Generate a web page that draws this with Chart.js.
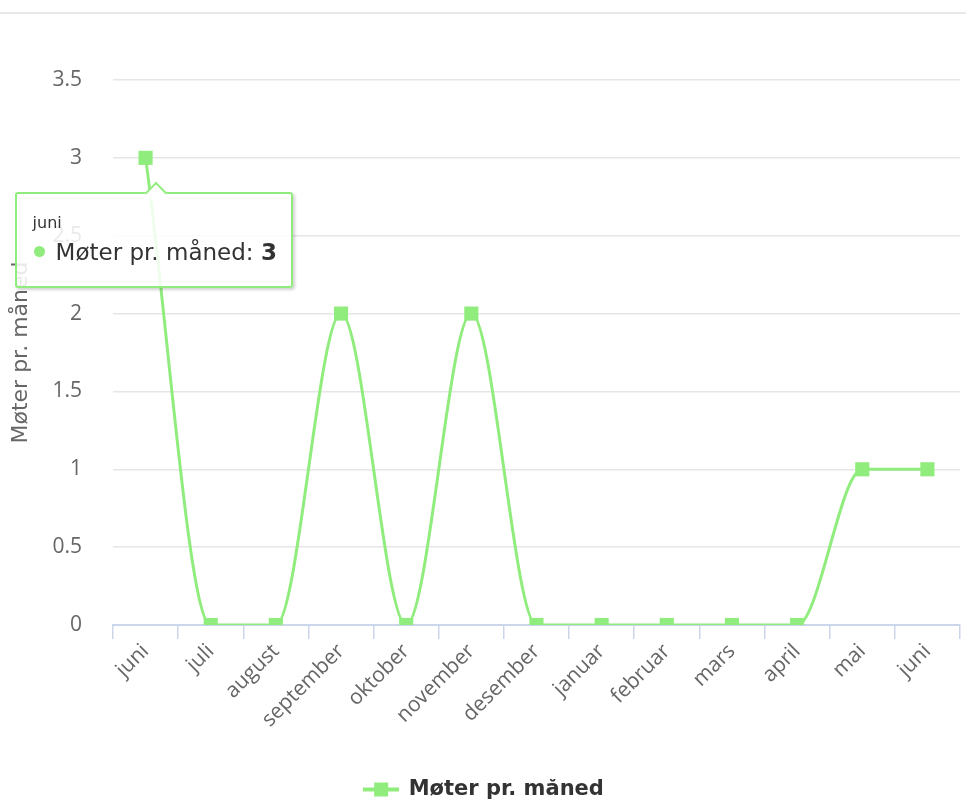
<!DOCTYPE html>
<html>
<head>
<meta charset="utf-8">
<script src="https://cdn.jsdelivr.net/npm/chart.js@4/dist/chart.umd.min.js"></script>
<style>
    body { margin: 0; background: #fff; overflow: hidden; }
    #wrap { position: relative; width: 970px; height: 803px; }
    #topline { position: absolute; left: 0; top: 12px; width: 100%; height: 2px; background: #e8e8e8; }
    #tip {
        position: absolute; width: 274px; height: 92px; box-sizing: content-box;
        border: 2px solid #90ed7d; border-radius: 3px;
        background: rgba(255, 255, 255, 0.86);
        box-shadow: 2px 2px 3px rgba(0, 0, 0, 0.18);
        font-family: "DejaVu Sans", sans-serif; color: #333; opacity: 0; pointer-events: none;
    }
    #tip:before {
        content: ''; position: absolute; left: 131px; top: -9px; width: 14px; height: 14px;
        background: #fff; border-left: 2px solid #90ed7d; border-top: 2px solid #90ed7d;
        transform: rotate(45deg);
    }
    #tip .tt-title { position: absolute; left: 16px; top: 19px; font-size: 16px; }
    #tip .tt-row { position: absolute; left: 17px; top: 45px; font-size: 23px; white-space: nowrap; }
    #tip .tt-dot {
        display: inline-block; width: 11px; height: 11px; border-radius: 50%;
        background: #90ed7d; margin-right: 11px; vertical-align: 3px;
    }
    #tip .tt-value { font-weight: bold; }
</style>
</head>
<body>
<div id="wrap">
    <div id="topline"></div>
    <canvas id="chart" width="970" height="803"></canvas>
    <div id="tip"><div class="tt-title"></div><div class="tt-row"><span class="tt-dot"></span><span class="tt-name"></span><span class="tt-value"></span></div></div>
</div>
<script>
// data
const months = ['juni', 'juli', 'august', 'september', 'oktober', 'november', 'desember',
    'januar', 'februar', 'mars', 'april', 'mai', 'juni'];
const meetings = [3, 0, 0, 2, 0, 2, 0, 0, 0, 0, 0, 1, 1];
const seriesName = 'Møter pr. måned';
const yTicks = [0, 0.5, 1, 1.5, 2, 2.5, 3, 3.5];

const green = '#90ed7d';

// legend symbol: line with a square on it
function legendSymbol() {
    const c = document.createElement('canvas');
    c.width = 36;
    c.height = 16;
    const g = c.getContext('2d');
    g.fillStyle = green;
    g.fillRect(0, 6, 36, 4);
    g.fillRect(11, 1, 14, 14);
    return c;
}

function externalTooltip(context) {
    const tt = context.tooltip;
    const el = document.getElementById('tip');
    if (tt.opacity === 0) {
        el.style.opacity = 0;
        return;
    }
    const dp = tt.dataPoints[0];
    el.querySelector('.tt-title').textContent = dp.label;
    el.querySelector('.tt-name').textContent = dp.dataset.label + ': ';
    el.querySelector('.tt-value').textContent = dp.formattedValue;
    el.style.left = (tt.caretX - 131) + 'px';
    el.style.top = (tt.caretY + 34) + 'px';
    el.style.opacity = 1;
}

const ctx = document.getElementById('chart').getContext('2d');
const chart = new Chart(ctx, {
    type: 'line',
    data: {
        labels: months,
        datasets: [{
            label: seriesName,
            data: meetings,
            borderColor: green,
            backgroundColor: green,
            borderWidth: 3,
            cubicInterpolationMode: 'monotone',
            pointStyle: 'rect',
            pointRadius: 10,
            pointHoverRadius: 10,
            pointBorderWidth: 0,
            pointHoverBorderWidth: 0,
            pointBackgroundColor: green,
            pointHoverBackgroundColor: green
        }]
    },
    options: {
        responsive: false,
        animation: false,
        layout: { padding: { left: 0, right: 2, top: 80, bottom: -7 } },
        events: [],
        scales: {
            x: {
                offset: true,
                afterFit: (scale) => { scale.height = 803 + 7 - 625 - scale.chart.legend.height; },
                grid: { offset: true, drawOnChartArea: false, color: '#ccd6eb', tickLength: 14, lineWidth: 1.5 },
                border: { color: '#ccd6eb', width: 2 },
                ticks: {
                    color: '#666666', font: { family: 'Open Sans', size: 21 },
                    maxRotation: 45, minRotation: 45, padding: 0, autoSkip: false
                }
            },
            y: {
                min: 0, max: 3.5,
                afterBuildTicks: (scale) => { scale.ticks = yTicks.map(v => ({ value: v })); },
                afterFit: (scale) => { scale.width = 113; },
                grid: { color: '#e6e6e6', lineWidth: 1.5, drawTicks: false },
                border: { display: false },
                ticks: {
                    color: '#666666', font: { family: 'Open Sans', size: 21 }, padding: 31,
                    callback: (v) => String(v)
                },
                title: {
                    display: true, text: seriesName, color: '#666666',
                    font: { family: 'DejaVu Sans', size: 22 }, padding: { top: 8, bottom: 0 }
                }
            }
        },
        plugins: {
            legend: {
                position: 'bottom',
                labels: {
                    usePointStyle: true, pointStyle: legendSymbol(), pointStyleWidth: 34,
                    color: '#333333', font: { family: 'DejaVu Sans', size: 21, weight: 'bold' },
                    padding: 0
                }
            },
            tooltip: { enabled: false, external: externalTooltip }
        }
    }
});

// show the hover label on the first point, as in the picture
const first = chart.getDatasetMeta(0).data[0];
chart.setActiveElements([{ datasetIndex: 0, index: 0 }]);
chart.tooltip.setActiveElements([{ datasetIndex: 0, index: 0 }], { x: first.x, y: first.y });
chart.update();
</script>
</body>
</html>
